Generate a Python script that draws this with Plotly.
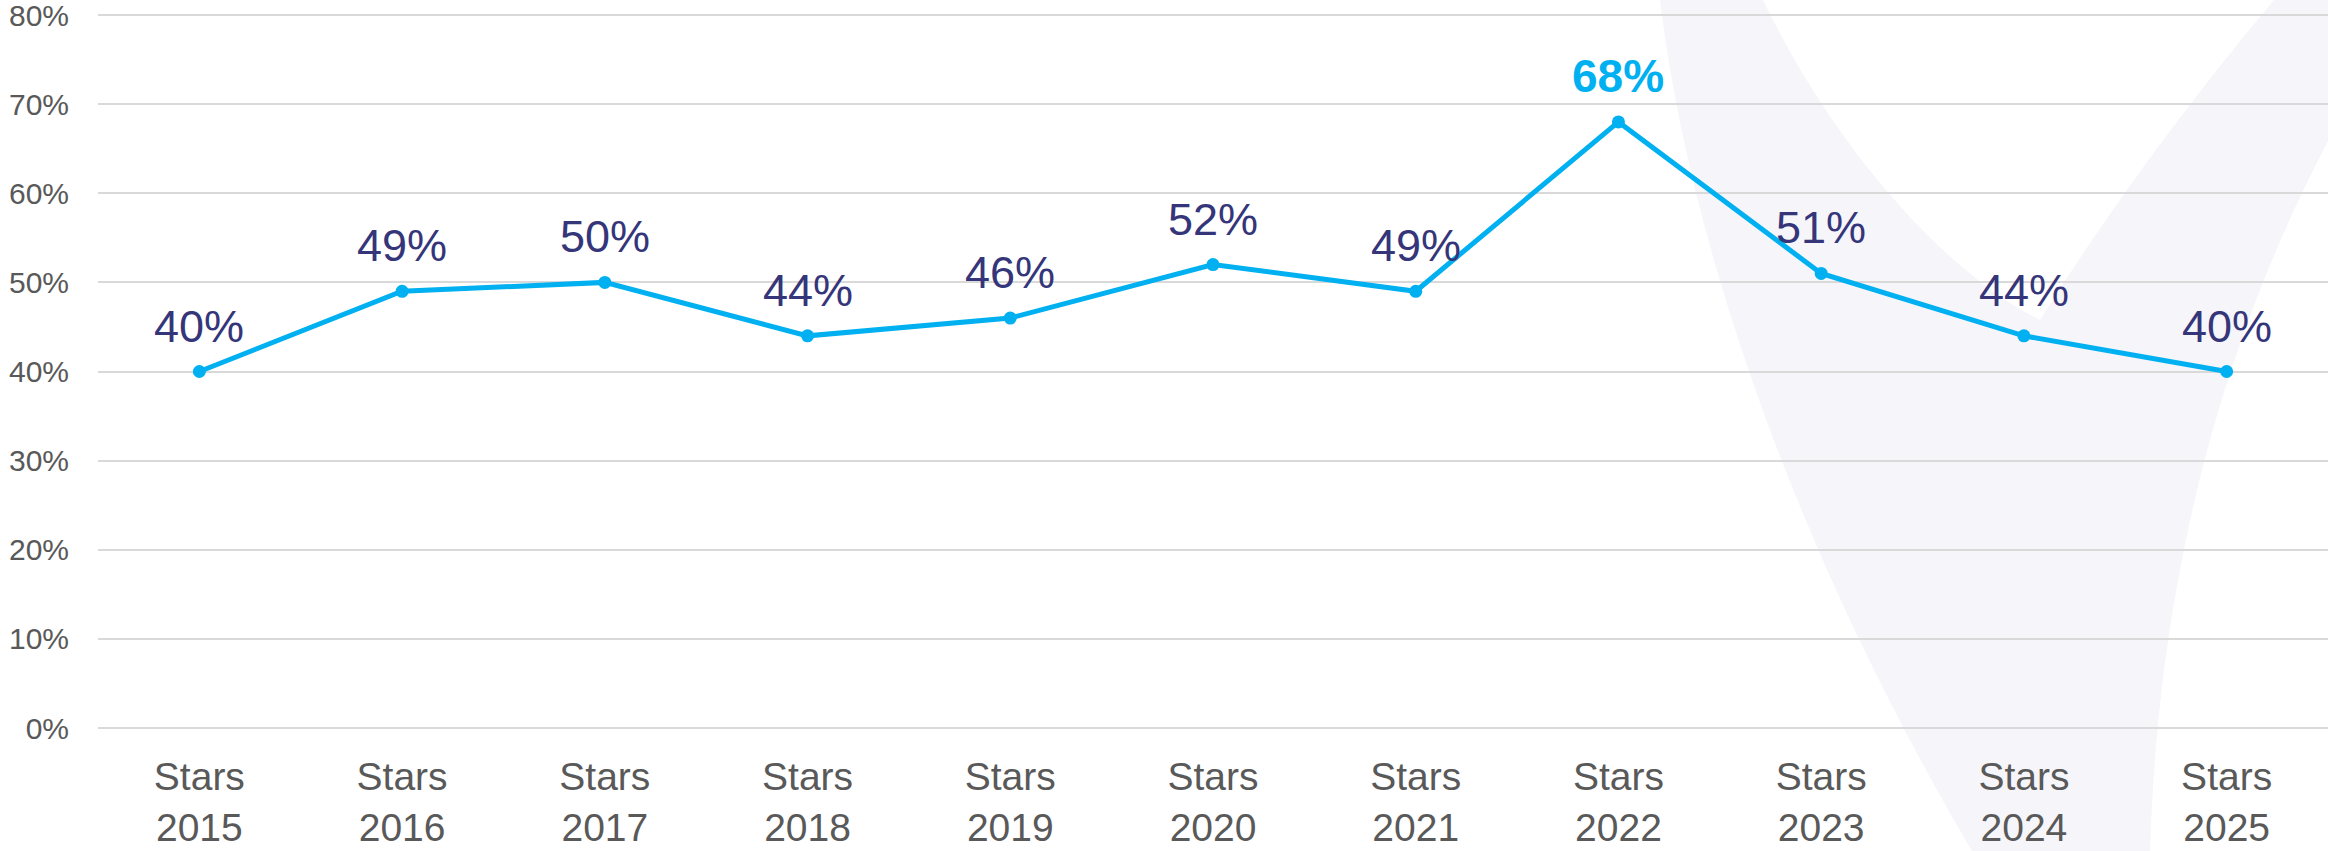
import plotly.graph_objects as go

# Share of respondents per Stars edition
categories = ["Stars<br>2015", "Stars<br>2016", "Stars<br>2017", "Stars<br>2018",
              "Stars<br>2019", "Stars<br>2020", "Stars<br>2021", "Stars<br>2022",
              "Stars<br>2023", "Stars<br>2024", "Stars<br>2025"]
values = [40, 49, 50, 44, 46, 52, 49, 68, 51, 44, 40]
highlight = "Stars<br>2022"

y_ticks = [0, 10, 20, 30, 40, 50, 60, 70, 80]
y_tick_text = [f"{v}%" for v in y_ticks]

LINE = "#00B0F0"
NAVY = "#35357A"
GREY = "#595959"
FONT = "Liberation Sans, Arial, sans-serif"

W, H = 2328, 851
L, R, T, B = 98, 0, 13, 121
pw, ph = W - L - R, H - T - B
# small headroom so the 0% and 80% gridlines are drawn inside the plot area
PAD = 80 * 2 / (713)
Y_RANGE = [-PAD, 80 + PAD]


def px(x, y):
    """Pixel position on the page -> paper coordinates."""
    return f"{(x - L) / pw:.5f},{(H - B - y) / ph:.5f}"


# Decorative "V" mark behind the chart
v_path = (
    "M " + px(1660, 0)
    + " C " + px(1690, 250) + " " + px(1800, 560) + " " + px(1972, 851)
    + " L " + px(2150, 851)
    + " C " + px(2160, 520) + " " + px(2250, 290) + " " + px(2328, 141)
    + " L " + px(2328, 0)
    + " L " + px(2274, 0)
    + " Q " + px(2140, 160) + " " + px(2040, 320)
    + " C " + px(1940, 270) + " " + px(1830, 140) + " " + px(1763, 0)
    + " Z"
)

fig = go.Figure()

fig.add_trace(go.Scatter(
    x=categories, y=values,
    mode="lines+markers",
    line=dict(color=LINE, width=5),
    marker=dict(color=LINE, size=13),
    hoverinfo="skip",
    showlegend=False,
))

# Value labels above each point; the peak edition is emphasised
annotations = []
for c, v in zip(categories, values):
    is_peak = c == highlight
    annotations.append(dict(
        x=c, y=v, xref="x", yref="y",
        text=f"<b>{v}%</b>" if is_peak else f"{v}%",
        showarrow=False, xanchor="center", yanchor="bottom", yshift=18,
        font=dict(family=FONT, size=46 if is_peak else 45,
                  color=LINE if is_peak else NAVY),
    ))

fig.update_layout(
    width=W, height=H,
    margin=dict(l=L, r=R, t=T, b=B, pad=0, autoexpand=False),
    paper_bgcolor="white",
    plot_bgcolor="rgba(0,0,0,0)",
    font=dict(family=FONT, color=GREY),
    annotations=annotations,
    shapes=[dict(
        type="path", path=v_path, xref="paper", yref="paper",
        fillcolor="#F5F5FA", line=dict(width=0), layer="below",
    )],
    xaxis=dict(
        type="category",
        range=[-0.5, len(categories) - 0.5],
        showgrid=False, zeroline=False, showline=False,
        ticks="", tickfont=dict(family=FONT, size=39, color=GREY),
        ticklabelstandoff=20, ticklabeloverflow="allow", automargin=False,
        fixedrange=True,
    ),
    yaxis=dict(
        range=Y_RANGE,
        tickvals=y_ticks, ticktext=y_tick_text,
        showgrid=True, gridcolor="#D9D9D9", gridwidth=2,
        zeroline=False, showline=False,
        ticks="", tickfont=dict(family=FONT, size=30, color=GREY),
        ticklabelstandoff=28, ticklabeloverflow="allow", automargin=False,
        fixedrange=True,
    ),
)

fig.write_html("out.html")
